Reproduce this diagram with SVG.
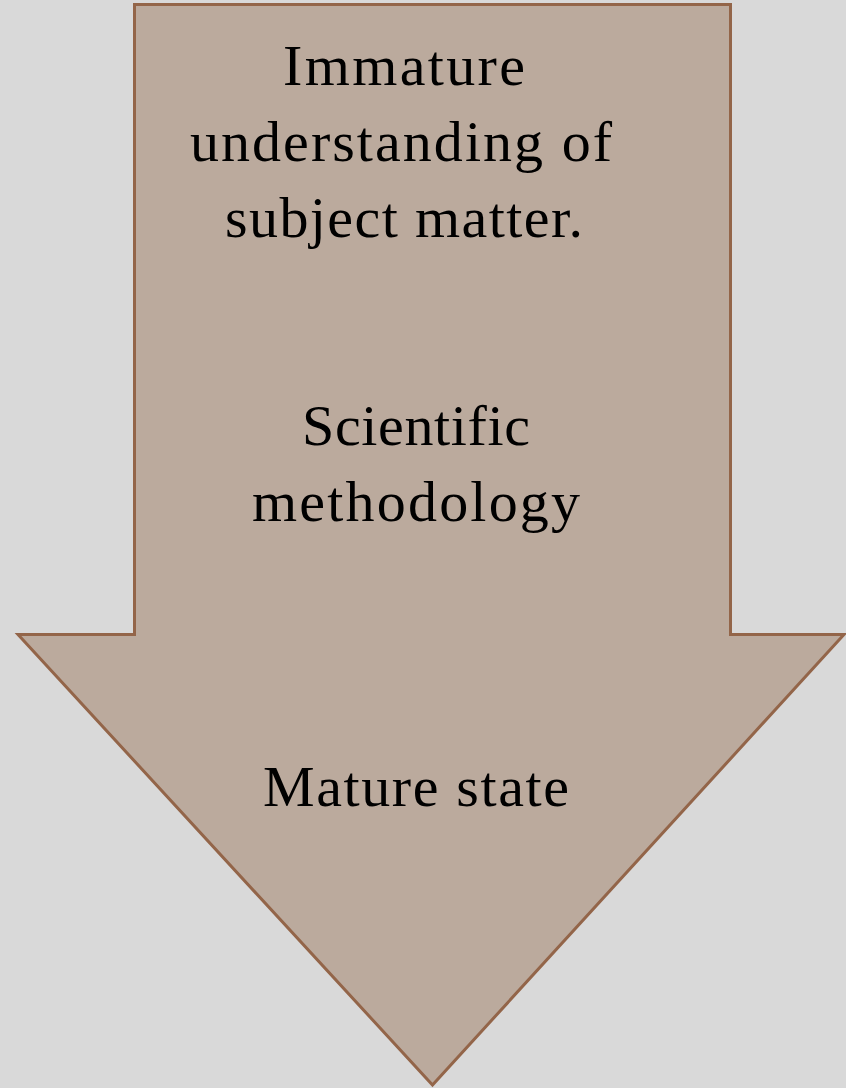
<svg xmlns="http://www.w3.org/2000/svg" width="846" height="1088" viewBox="0 0 846 1088">
<style>
.lbl{font-family:"Liberation Serif","Times New Roman",serif;font-size:58px;fill:#000;text-anchor:middle}
</style>
<rect x="0" y="0" width="846" height="1088" fill="#d9d9d9"/>
<g id="arrow">
<path d="M134.5,4.5 H730.5 V634.5 H844 L432.5,1085 L18,634.5 H134.5 Z" fill="#bbaa9d" stroke="#936549" stroke-width="3" stroke-linejoin="miter"/>
</g>
<g id="label-top">
<text class="lbl" x="404" y="85" textLength="242" lengthAdjust="spacing">Immature</text>
<text class="lbl" x="401" y="161" textLength="422" lengthAdjust="spacing">understanding of</text>
<text class="lbl" x="404" y="237" textLength="358" lengthAdjust="spacing">subject matter.</text>
</g>
<g id="label-middle">
<text class="lbl" x="416" y="445" textLength="228" lengthAdjust="spacing">Scientific</text>
<text class="lbl" x="416" y="521" textLength="328" lengthAdjust="spacing">methodology</text>
</g>
<g id="label-bottom">
<text class="lbl" x="416" y="806" textLength="306" lengthAdjust="spacing">Mature state</text>
</g>
</svg>
